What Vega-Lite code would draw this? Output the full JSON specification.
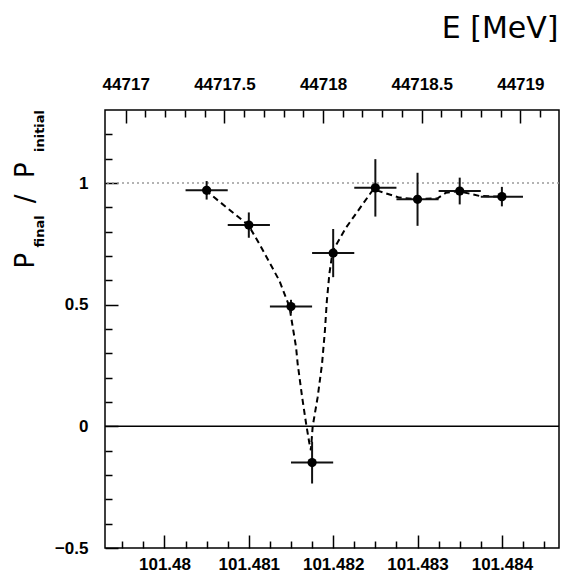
{
  "$schema": "https://vega.github.io/schema/vega-lite/v6.json",
  "width": 454,
  "height": 438,
  "autosize": {"type": "none"},
  "padding": {"left": 105, "top": 110, "right": 3, "bottom": 24},
  "background": "white",
  "config": {
    "view": {"stroke": "black", "strokeWidth": 1.5},
    "axis": {
      "grid": false,
      "domain": false,
      "tickColor": "black",
      "tickWidth": 1.5,
      "labelFont": "Liberation Sans",
      "labelFontWeight": "bold",
      "labelFontSize": 17,
      "labelColor": "black",
      "titleColor": "black"
    }
  },
  "datasets": {
    "pts": [
      {"x": 101.4805, "xlo": 101.48025, "xhi": 101.48075, "y": 0.970, "ylo": 0.932, "yhi": 1.008},
      {"x": 101.481, "xlo": 101.48075, "xhi": 101.48125, "y": 0.827, "ylo": 0.775, "yhi": 0.879},
      {"x": 101.4815, "xlo": 101.48125, "xhi": 101.48175, "y": 0.492, "ylo": 0.464, "yhi": 0.520},
      {"x": 101.48175, "xlo": 101.4815, "xhi": 101.482, "y": -0.149, "ylo": -0.235, "yhi": -0.063},
      {"x": 101.482, "xlo": 101.48175, "xhi": 101.48225, "y": 0.712, "ylo": 0.613, "yhi": 0.811},
      {"x": 101.4825, "xlo": 101.48225, "xhi": 101.48275, "y": 0.980, "ylo": 0.862, "yhi": 1.098},
      {"x": 101.483, "xlo": 101.48275, "xhi": 101.48325, "y": 0.933, "ylo": 0.824, "yhi": 1.042},
      {"x": 101.4835, "xlo": 101.48325, "xhi": 101.48375, "y": 0.967, "ylo": 0.912, "yhi": 1.022},
      {"x": 101.484, "xlo": 101.48375, "xhi": 101.48425, "y": 0.944, "ylo": 0.904, "yhi": 0.984}
    ],
    "curve": [
      {"x": 101.480486, "y": 0.970},
      {"x": 101.480995, "y": 0.827},
      {"x": 101.481126, "y": 0.749},
      {"x": 101.481363, "y": 0.598},
      {"x": 101.481481, "y": 0.492},
      {"x": 101.48156, "y": 0.325},
      {"x": 101.481579, "y": 0.257},
      {"x": 101.481632, "y": 0.120},
      {"x": 101.481679, "y": 0.011},
      {"x": 101.481718, "y": -0.070},
      {"x": 101.481736, "y": -0.098},
      {"x": 101.481757, "y": 0.000},
      {"x": 101.481816, "y": 0.120},
      {"x": 101.481868, "y": 0.257},
      {"x": 101.481902, "y": 0.393},
      {"x": 101.481925, "y": 0.516},
      {"x": 101.481955, "y": 0.627},
      {"x": 101.481994, "y": 0.721},
      {"x": 101.482153, "y": 0.817},
      {"x": 101.48235, "y": 0.913},
      {"x": 101.482476, "y": 0.974},
      {"x": 101.482784, "y": 0.940},
      {"x": 101.48298, "y": 0.933},
      {"x": 101.483238, "y": 0.937},
      {"x": 101.483338, "y": 0.960},
      {"x": 101.483483, "y": 0.967},
      {"x": 101.483732, "y": 0.947},
      {"x": 101.483981, "y": 0.944}
    ],
    "one": [{"y": 1}],
    "zero": [{"y": 0}],
    "top": [{"E": 44718, "y": 0.5}]
  },
  "resolve": {"scale": {"x": "independent"}, "axis": {"x": "independent", "y": "independent"}},
  "layer": [
    {
      "data": {"name": "one"},
      "mark": {"type": "rule", "color": "#9a9a9a", "strokeWidth": 1.5, "strokeDash": [2, 3]},
      "encoding": {
        "y": {"field": "y", "type": "quantitative", "scale": {"domain": [-0.5, 1.3], "nice": false, "zero": false}, "axis": null}
      }
    },
    {
      "data": {"name": "zero"},
      "mark": {"type": "rule", "color": "black", "strokeWidth": 1.5},
      "encoding": {
        "y": {"field": "y", "type": "quantitative", "scale": {"domain": [-0.5, 1.3], "nice": false, "zero": false}, "axis": null}
      }
    },
    {
      "data": {"name": "curve"},
      "mark": {"type": "line", "color": "black", "strokeWidth": 2, "strokeDash": [6, 4]},
      "encoding": {
        "x": {"field": "x", "type": "quantitative", "scale": {"domain": [101.479295, 101.484677], "nice": false, "zero": false}, "axis": null},
        "y": {"field": "y", "type": "quantitative", "scale": {"domain": [-0.5, 1.3], "nice": false, "zero": false}, "axis": null}
      }
    },
    {
      "data": {"name": "pts"},
      "mark": {"type": "rule", "color": "#111111", "strokeWidth": 2},
      "encoding": {
        "x": {"field": "xlo", "type": "quantitative", "scale": {"domain": [101.479295, 101.484677], "nice": false, "zero": false},
          "axis": {"orient": "bottom", "offset": -7, "values": [101.4795, 101.47975, 101.48025, 101.4805, 101.48075, 101.48125, 101.4815, 101.48175, 101.48225, 101.4825, 101.48275, 101.48325, 101.4835, 101.48375, 101.48425, 101.4845], "tickSize": 7, "labels": false, "title": null}},
        "x2": {"field": "xhi"},
        "y": {"field": "y", "type": "quantitative", "scale": {"domain": [-0.5, 1.3], "nice": false, "zero": false},
          "axis": {"orient": "left", "offset": -7, "values": [-0.4, -0.3, -0.2, -0.1, 0.1, 0.2, 0.3, 0.4, 0.6, 0.7, 0.8, 0.9, 1.1, 1.2], "tickSize": 7, "labels": false,
            "title": "final\u00a0\u00a0\u00a0\u00a0\u00a0\u00a0\u00a0\u00a0\u00a0\u00a0\u00a0\u00a0\u00a0\u00a0initial", "titleFont": "DejaVu Sans", "titleFontWeight": "bold", "titleFontSize": 13, "titleAngle": -90, "titleAlign": "left", "titleBaseline": "alphabetic", "titleX": -69, "titleY": 137}}
      }
    },
    {
      "data": {"name": "pts"},
      "mark": {"type": "rule", "color": "#111111", "strokeWidth": 2},
      "encoding": {
        "x": {"field": "x", "type": "quantitative", "scale": {"domain": [101.479295, 101.484677], "nice": false, "zero": false}, "axis": null},
        "y": {"field": "ylo", "type": "quantitative", "scale": {"domain": [-0.5, 1.3], "nice": false, "zero": false}, "axis": null},
        "y2": {"field": "yhi"}
      }
    },
    {
      "data": {"name": "pts"},
      "mark": {"type": "point", "filled": true, "shape": "circle", "size": 85, "color": "black", "opacity": 1},
      "encoding": {
        "x": {"field": "x", "type": "quantitative", "scale": {"domain": [101.479295, 101.484677], "nice": false, "zero": false},
          "axis": {"orient": "bottom", "offset": -13, "values": [101.48, 101.481, 101.482, 101.483, 101.484], "format": ".3~f", "tickSize": 13, "labelPadding": 8, "title": null}},
        "y": {"field": "y", "type": "quantitative", "scale": {"domain": [-0.5, 1.3], "nice": false, "zero": false},
          "axis": {"orient": "left", "offset": -13, "values": [-0.5, 0, 0.5, 1], "format": ".1~f", "tickSize": 13, "labelPadding": 17,
            "title": "P\u00a0\u00a0\u00a0\u00a0\u00a0\u00a0/\u00a0\u00a0P", "titleFont": "DejaVu Sans", "titleFontWeight": "normal", "titleFontSize": 26, "titleAngle": -90, "titleAlign": "left", "titleBaseline": "alphabetic", "titleX": -85, "titleY": 158}}
      }
    },
    {
      "data": {"name": "top"},
      "mark": {"type": "point", "opacity": 0},
      "encoding": {
        "x": {"field": "E", "type": "quantitative", "scale": {"domain": [44716.895, 44719.196], "nice": false, "zero": false},
          "axis": {"orient": "top", "offset": -13, "values": [44717, 44717.5, 44718, 44718.5, 44719], "format": ".1~f", "tickSize": 13, "labelPadding": 17,
            "title": "E [MeV]", "titleFont": "DejaVu Sans", "titleFontWeight": "normal", "titleFontSize": 30, "titleAngle": 0, "titleAlign": "right", "titleBaseline": "alphabetic", "titleX": 453, "titleY": -86}},
        "y": {"field": "y", "type": "quantitative", "scale": {"domain": [-0.5, 1.3], "nice": false, "zero": false}, "axis": null}
      }
    },
    {
      "data": {"name": "top"},
      "mark": {"type": "point", "opacity": 0},
      "encoding": {
        "x": {"field": "E", "type": "quantitative", "scale": {"domain": [44716.895, 44719.196], "nice": false, "zero": false},
          "axis": {"orient": "top", "offset": -7, "values": [44717.1, 44717.2, 44717.3, 44717.4, 44717.6, 44717.7, 44717.8, 44717.9, 44718.1, 44718.2, 44718.3, 44718.4, 44718.6, 44718.7, 44718.8, 44718.9, 44719.1], "tickSize": 7, "labels": false, "title": null}},
        "y": {"field": "y", "type": "quantitative", "scale": {"domain": [-0.5, 1.3], "nice": false, "zero": false}, "axis": null}
      }
    }
  ]
}
